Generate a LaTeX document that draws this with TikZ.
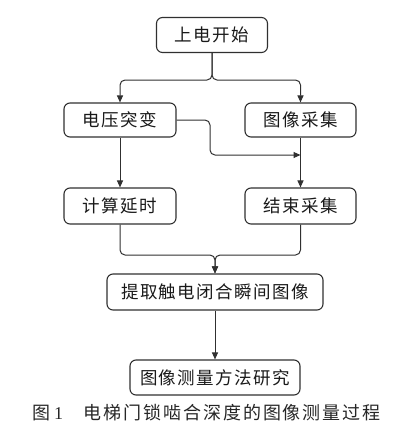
\documentclass[tikz,border=0pt]{standalone}
\usepackage{fontspec}
\newfontfamily\cjk{Noto Sans CJK SC}[LetterSpace=8]
\newfontfamily\cjkcap{Noto Sans CJK SC}[LetterSpace=11]
\newfontfamily\serifnum{Liberation Serif}
\usetikzlibrary{arrows.meta}
\definecolor{ln}{HTML}{303030}
\tikzset{
  box/.style={draw=ln, line width=1.1pt, rounded corners=6pt, inner sep=0pt,
    font=\cjk\fontsize{17.5}{20}\selectfont, text=black!90},
  conn/.style={draw=ln, line width=1pt, rounded corners=5pt},
  arr/.style={conn, -{Triangle[length=7pt,width=6pt]}}
}
\begin{document}
\begin{tikzpicture}[x=1pt,y=1pt]
\useasboundingbox (0,0) rectangle (406,-432);
\node[box, minimum width=111pt, minimum height=35pt] (start) at (212,-35) {上电开始};
\node[box, minimum width=112pt, minimum height=34pt] (volt) at (120,-120) {电压突变};
\node[box, minimum width=111pt, minimum height=34pt] (img) at (300.5,-120) {图像采集};
\node[box, minimum width=112pt, minimum height=36pt] (calc) at (120,-206) {计算延时};
\node[box, minimum width=111pt, minimum height=36pt] (endc) at (300.5,-206) {结束采集};
\node[box, minimum width=216pt, minimum height=36pt] (ext) at (215,-292) {提取触电闭合瞬间图像};
\node[box, minimum width=170pt, minimum height=35pt] (meth) at (215,-377.5) {图像测量方法研究};
\node[anchor=west, inner sep=0pt, font=\cjkcap\fontsize{18}{20}\selectfont, text=black!85] (cap) at (32,-413) {图\hspace{4pt}{\serifnum 1}\hspace{20pt}电梯门锁啮合深度的图像测量过程};
\coordinate (j1) at (212,-80);
\coordinate (j2) at (210,-155);
\coordinate (j4) at (215,-255);
\draw[arr] (start.south) |- (volt.north |- j1) -- (volt.north);
\draw[arr] (start.south) |- (img.north |- j1) -- (img.north);
\draw[arr] (volt.east) -| (j2) -- (img.south |- j2);
\draw[arr] (img.south) -- (endc.north);
\draw[arr] (volt.south) -- (calc.north);
\draw[arr] (calc.south) |- (j4) -- (ext.north);
\draw[arr] (endc.south) |- (j4) -- (ext.north);
\draw[arr] (ext.south) -- (meth.north);
\end{tikzpicture}
\end{document}
